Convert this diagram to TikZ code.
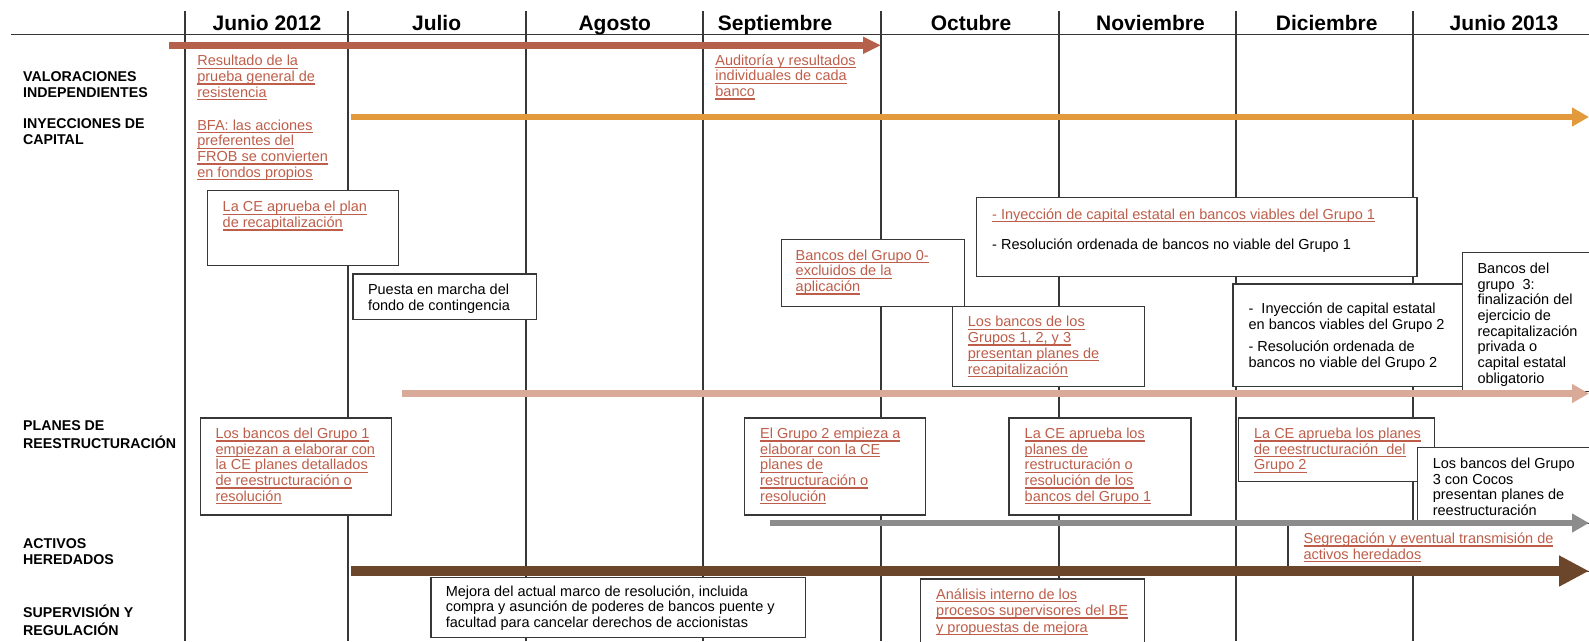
\documentclass[tikz,border=0pt]{standalone}
\usepackage{fontspec}
\setmainfont{Liberation Sans}
\usetikzlibrary{arrows.meta, positioning}

\definecolor{valred}{RGB}{181,96,75}
\definecolor{caporange}{RGB}{226,154,60}
\definecolor{plansalmon}{RGB}{218,170,152}
\definecolor{actgray}{RGB}{140,140,140}
\definecolor{supbrown}{RGB}{107,70,42}
\definecolor{txtred}{RGB}{190,94,74}
\definecolor{linegray}{RGB}{55,55,55}

\newsavebox{\ulinebox}
\newcommand{\redline}[1]{\textcolor{txtred}{\sbox{\ulinebox}{#1}\rlap{\rule[-3pt]{\wd\ulinebox}{1.3pt}}\usebox{\ulinebox}}}

\begin{document}
\begin{tikzpicture}[x=1pt, y=-1pt]

    \tikzstyle{grid} = [draw=linegray, line width=1.3pt]
    \tikzstyle{month} = [anchor=base, inner sep=0pt, font=\fontsize{21}{24}\selectfont\bfseries]
    \tikzstyle{row} = [anchor=north west, inner sep=0pt, align=left, font=\fontsize{14.2}{16.2}\selectfont\bfseries]
    \tikzstyle{txt} = [anchor=north west, inner sep=0pt, align=left, font=\fontsize{14.5}{15.7}\selectfont]
    \tikzstyle{box} = [draw=linegray, fill=white, line width=1.3pt, rectangle, anchor=north west, inner sep=0pt]
    \tikzstyle{bar} = [line width=6.5pt, -{Triangle[length=17pt, width=18pt]}]

    \useasboundingbox (0,0) rectangle (1589,641);

    % Month columns
    \foreach \x in {185,348,526,703,881,1059,1236,1413}
        \draw[grid] (\x,11) -- (\x,641);
    \draw[grid] (11,34.5) -- (1589,34.5);

    \foreach \x/\m [count=\i] in {267/Junio 2012, 436.6/Julio, 614.7/Agosto, 775/Septiembre,
                                   971/Octubre, 1150.5/Noviembre, 1326.7/Diciembre, 1504/Junio 2013}
        \node[month] (mes-\i) at (\x,30.5) {\m};

    % Row titles
    \node[row] (valor) at (23,69.7) {\strut VALORACIONES\\INDEPENDIENTES};
    \node[row] (inyec) at (23,117) {\strut INYECCIONES DE\\CAPITAL};
    \node[row] (planes) at (23,418.7) {\strut PLANES DE\\REESTRUCTURACIÓN};
    \node[row] (activos) at (23,537) {\strut ACTIVOS\\HEREDADOS};
    \node[row] (superv) at (23,604.7) {\strut SUPERVISIÓN Y\\REGULACIÓN};

    % Valoraciones independientes
    \node[txt] (prueba) at (197.1,54.7) {\strut\redline{Resultado de la}\\\redline{prueba general de}\\\redline{resistencia}};
    \node[txt] (audit) at (715.2,54) {\strut\redline{Auditoría y resultados}\\\redline{individuales de cada}\\\redline{banco}};

    % Inyecciones de capital
    \node[txt] (bfa) at (197.1,119) {\strut\redline{BFA: las acciones}\\\redline{preferentes del}\\\redline{FROB se convierten}\\\redline{en fondos propios}};

    \node[box, minimum width=190.7pt, minimum height=75pt] (plan-box) at (206.9,190) {};
    \node[txt, below right=10.7pt and 15.6pt of plan-box.north west] (plan) {\strut\redline{La CE aprueba el plan}\\\redline{de recapitalización}};

    \node[box, minimum width=183.2pt, minimum height=45.7pt] (fondo-box) at (352.3,273.3) {};
    \node[txt, below right=10pt and 15.5pt of fondo-box.north west] (fondo) {\strut Puesta en marcha del\\fondo de contingencia};

    \node[box, minimum width=183pt, minimum height=66.7pt] (g0-box) at (780.5,239) {};
    \node[txt, below right=10pt and 15pt of g0-box.north west] (g0) {\strut\redline{Bancos del Grupo 0-}\\\redline{excluidos de la}\\\redline{aplicación}};

    \node[box, minimum width=440.4pt, minimum height=79pt] (g1-box) at (976,196.5) {};
    \node[txt, below right=11.5pt and 16pt of g1-box.north west] (g1) {\strut\redline{- Inyección de capital estatal en bancos viables del Grupo 1}\\[14.3pt]- Resolución ordenada de bancos no viable del Grupo 1};

    \node[box, minimum width=192pt, minimum height=80pt] (recap-box) at (951.5,305.7) {};
    \node[txt, below right=10pt and 16.2pt of recap-box.north west] (recap) {\strut\redline{Los bancos de los}\\\redline{Grupos 1, 2, y 3}\\\redline{presentan planes de}\\\redline{recapitalización}};

    \node[box, minimum width=229.3pt, minimum height=102.4pt] (g2-box) at (1232.2,283.3) {};
    \node[txt, below right=19pt and 16.2pt of g2-box.north west] (g2) {\strut- \ Inyección de capital estatal\\en bancos viables del Grupo 2\\[7pt]- Resolución ordenada de\\bancos no viable del Grupo 2};

    \node[box, minimum width=140pt, minimum height=139pt] (g3-box) at (1461.5,251.5) {};
    \node[txt, below right=10.8pt and 15.8pt of g3-box.north west] (g3) {\strut Bancos del\\grupo \ 3:\\finalización del\\ejercicio de\\recapitalización\\privada o\\capital estatal\\obligatorio};

    % Planes de reestructuracion
    \node[box, minimum width=191.6pt, minimum height=97pt] (elab1-box) at (199.5,417.3) {};
    \node[txt, below right=10pt and 15.8pt of elab1-box.north west] (elab1) {\strut\redline{Los bancos del Grupo 1}\\\redline{empiezan a elaborar con}\\\redline{la CE planes detallados}\\\redline{de reestructuración o}\\\redline{resolución}};

    \node[box, minimum width=180.8pt, minimum height=97pt] (elab2-box) at (743.8,417.3) {};
    \node[txt, below right=10pt and 16.2pt of elab2-box.north west] (elab2) {\strut\redline{El Grupo 2 empieza a}\\\redline{elaborar con la CE}\\\redline{planes de}\\\redline{restructuración o}\\\redline{resolución}};

    \node[box, minimum width=182pt, minimum height=97pt] (apr1-box) at (1008.3,417.3) {};
    \node[txt, below right=10pt and 16.2pt of apr1-box.north west] (apr1) {\strut\redline{La CE aprueba los}\\\redline{planes de}\\\redline{restructuración o}\\\redline{resolución de los}\\\redline{bancos del Grupo 1}};

    \node[box, minimum width=196pt, minimum height=63.4pt] (apr2-box) at (1238,417.3) {};
    \node[txt, below right=10pt and 15.9pt of apr2-box.north west] (apr2) {\strut\redline{La CE aprueba los planes}\\\redline{de reestructuración \ del}\\\redline{Grupo 2}};

    \node[box, minimum width=185pt, minimum height=76.3pt] (cocos-box) at (1416.8,446.7) {};
    \node[txt, below right=10.6pt and 15.8pt of cocos-box.north west] (cocos) {\strut Los bancos del Grupo\\3 con Cocos\\presentan planes de\\reestructuración};

    % Activos heredados
    \node[box, minimum width=315pt, minimum height=48pt] (segr-box) at (1287.2,523) {};
    \node[txt, below right=9.3pt and 16.2pt of segr-box.north west] (segr) {\strut\redline{Segregación y eventual transmisión de}\\\redline{activos heredados}};

    % Supervision y regulacion
    \node[box, minimum width=374.7pt, minimum height=60pt] (marco-box) at (430.4,576.7) {};
    \node[txt, below right=8.3pt and 15.2pt of marco-box.north west] (marco) {\strut Mejora del actual marco de resolución, incluida\\compra y asunción de poderes de bancos puente y\\facultad para cancelar derechos de accionistas};

    \node[box, minimum width=223.4pt, minimum height=70pt] (analisis-box) at (920.1,578.3) {};
    \node[txt, font=\fontsize{14.5}{16.6}\selectfont, below right=9pt and 15.9pt of analisis-box.north west] (analisis) {\strut\redline{Análisis interno de los}\\\redline{procesos supervisores del BE}\\\redline{y propuestas de mejora}};

    % The arrows of each row
    \coordinate (val-start) at (169,45.3);
    \coordinate (val-end) at (881,45.3);
    \coordinate (cap-start) at (351,117);
    \coordinate (cap-end) at (1589,117);
    \coordinate (plan-start) at (402,393.5);
    \coordinate (plan-end) at (1589,393.5);
    \coordinate (act-start) at (770,523);
    \coordinate (act-end) at (1589,523);
    \coordinate (sup-start) at (351,571);
    \coordinate (sup-end) at (1589,571);

    \draw[bar, valred, -{Triangle[length=18pt, width=16pt]}] (val-start) -- (val-end);
    \draw[bar, caporange, line width=6pt] (cap-start) -- (cap-end);
    \draw[bar, plansalmon] (plan-start) -- (plan-end);
    \draw[bar, actgray] (act-start) -- (act-end);
    \draw[bar, supbrown, line width=10.5pt, -{Triangle[length=30pt, width=29pt]}] (sup-start) -- (sup-end);

\end{tikzpicture}
\end{document}
